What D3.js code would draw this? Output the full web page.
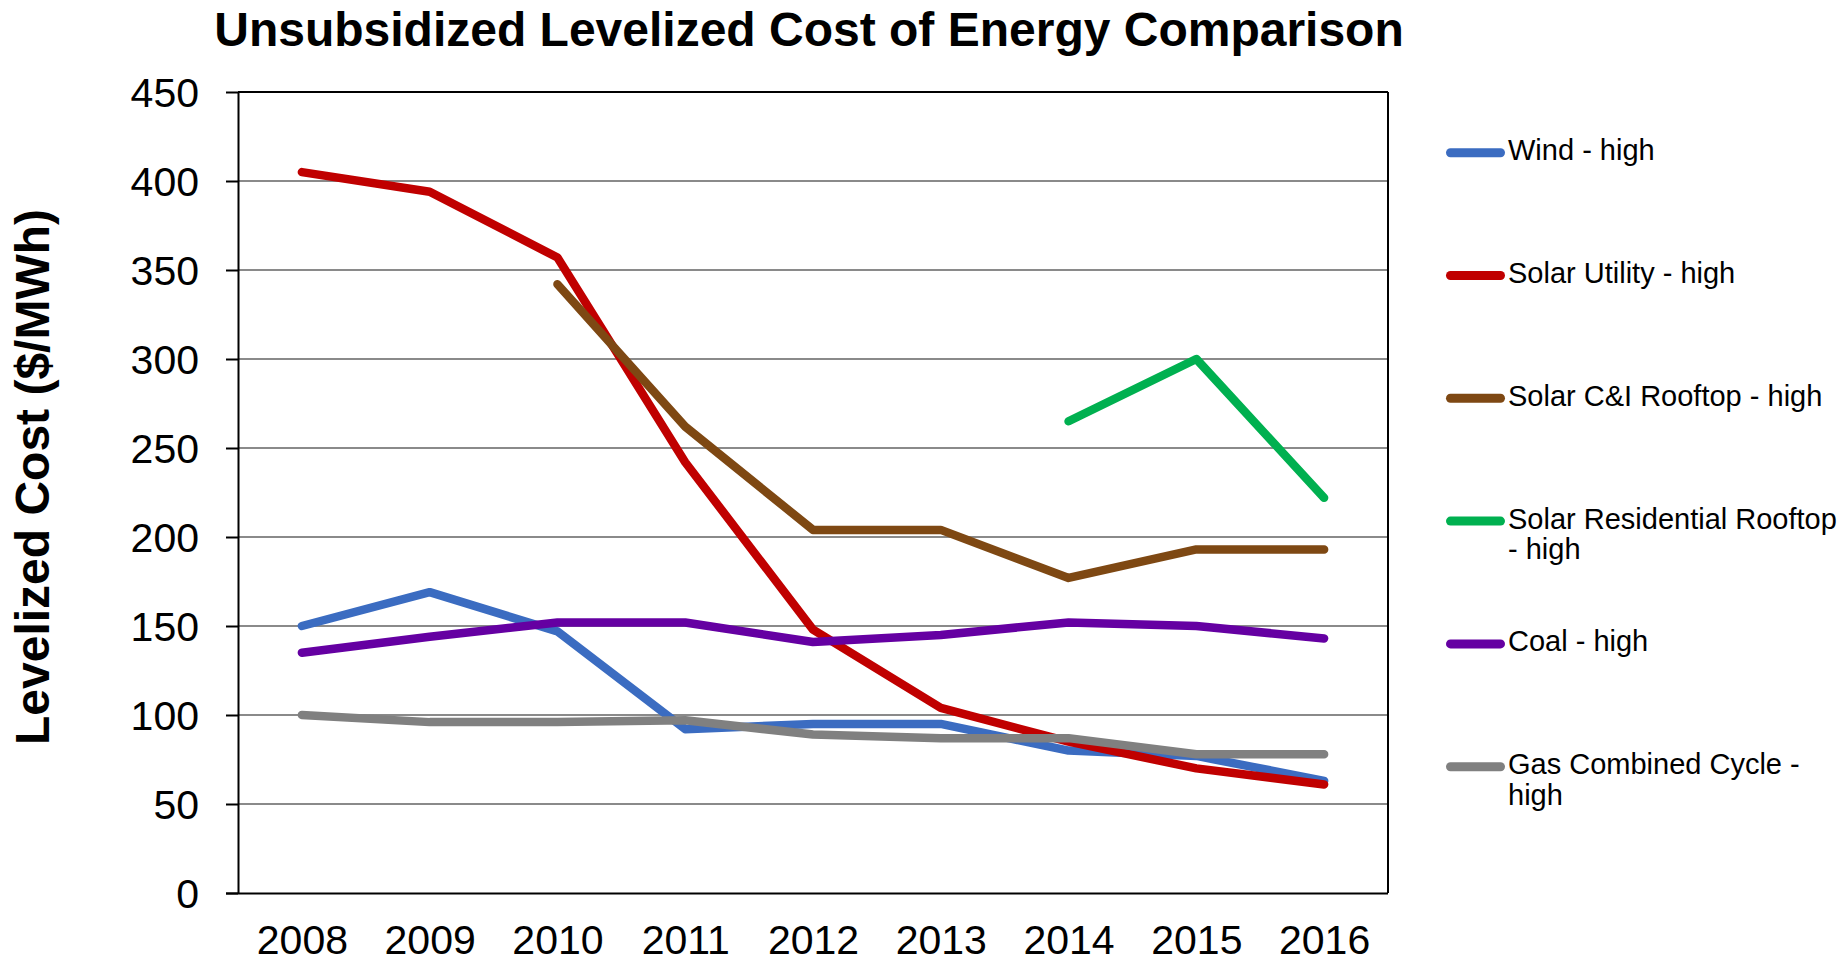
<!DOCTYPE html>
<html>
<head>
<meta charset="utf-8">
<script src="https://cdn.jsdelivr.net/npm/d3@7"></script>
<style>
  html, body { margin: 0; padding: 0; background: #fff; }
  svg { display: block; font-family: "Liberation Sans", Arial, sans-serif; }
</style>
</head>
<body>
<svg id="chart" width="1847" height="963"></svg>
<script>
const years = ["2008","2009","2010","2011","2012","2013","2014","2015","2016"];
const yTicks = [0,50,100,150,200,250,300,350,400,450];
const seriesNames = ["Wind - high","Solar Utility - high","Solar C&I Rooftop - high","Solar Residential Rooftop - high","Coal - high","Gas Combined Cycle - high"];
const legendLines = [["Wind - high"],["Solar Utility - high"],["Solar C&I Rooftop - high"],["Solar Residential Rooftop","- high"],["Coal - high"],["Gas Combined Cycle -","high"]];
const windHigh = [150,169,147,92,95,95,80,77,63];
const solarUtilityHigh = [405,394,357,242,148,104,85,70,61];
const solarCIHigh = [null,null,342,262,204,204,177,193,193];
const solarResHigh = [null,null,null,null,null,null,265,300,222];
const coalHigh = [135,144,152,152,141,145,152,150,143];
const gasHigh = [100,96,96,97,89,87,87,78,78];
const colors = ["#3B6CC1","#C00000","#7E4813","#00B050","#6500A2","#808080"];

const seriesValues = [windHigh, solarUtilityHigh, solarCIHigh, solarResHigh, coalHigh, gasHigh];

const svg = d3.select("#chart");
const L = 238, R = 1388, T = 92, B = 893;

const x = d3.scalePoint().domain(years).range([L, R]).padding(0.5);
const y = d3.scaleLinear().domain([0, 450]).range([B, T]);

// gridlines
svg.append("g").selectAll("line").data(yTicks.filter(v => v > 0 && v < 450)).join("line")
  .attr("x1", L).attr("x2", R).attr("y1", d => y(d)).attr("y2", d => y(d))
  .attr("stroke", "#8a8a8a").attr("stroke-width", 2);

// top and right border
svg.append("line").attr("x1", L).attr("x2", R).attr("y1", y(450)).attr("y2", y(450))
  .attr("stroke", "#000").attr("stroke-width", 2);
svg.append("line").attr("x1", R).attr("x2", R).attr("y1", T).attr("y2", B)
  .attr("stroke", "#000").attr("stroke-width", 2);

// y axis
const yAxis = svg.append("g").attr("transform", `translate(${L},0)`)
  .call(d3.axisLeft(y).tickValues(yTicks).tickSize(12).tickPadding(27).tickSizeOuter(0));
yAxis.select(".domain").attr("stroke", "#000").attr("stroke-width", 2);
yAxis.selectAll(".tick line").attr("stroke", "#000").attr("stroke-width", 2);
yAxis.selectAll(".tick text").attr("font-size", 41).attr("fill", "#000")
  .attr("font-family", "Liberation Sans, Arial, sans-serif").attr("dy", "0.35em");

// x axis
const xAxis = svg.append("g").attr("transform", `translate(0,${B})`)
  .call(d3.axisBottom(x).tickSize(0).tickPadding(32).tickSizeOuter(0));
xAxis.select(".domain").attr("stroke", "#000").attr("stroke-width", 2)
  .attr("d", `M${L - 12},0.5H${R}`);
xAxis.selectAll(".tick text").attr("font-size", 41).attr("fill", "#000")
  .attr("font-family", "Liberation Sans, Arial, sans-serif");

// lines
const line = d3.line()
  .defined(d => d.v !== null)
  .x(d => x(d.year)).y(d => y(d.v));

seriesValues.forEach((vals, i) => {
  const pts = years.map((yr, j) => ({year: yr, v: vals[j]}));
  svg.append("path").datum(pts)
    .attr("fill", "none").attr("stroke", colors[i]).attr("stroke-width", 8.5)
    .attr("stroke-linejoin", "round").attr("stroke-linecap", "round")
    .attr("d", line);
});

// title
svg.append("text").attr("x", 809).attr("y", 46).attr("text-anchor", "middle")
  .attr("font-size", 48).attr("font-weight", "bold").attr("fill", "#000")
  .text("Unsubsidized Levelized Cost of Energy Comparison");

// y axis title
svg.append("text").attr("transform", "translate(49,477) rotate(-90)")
  .attr("text-anchor", "middle").attr("font-size", 48).attr("font-weight", "bold").attr("fill", "#000")
  .text("Levelized Cost ($/MWh)");

// legend
const legY0 = 152.7, legStep = 122.8;
const leg = svg.append("g");
seriesNames.forEach((name, i) => {
  const cy = legY0 + i * legStep;
  leg.append("line").attr("x1", 1450.5).attr("x2", 1500.5).attr("y1", cy).attr("y2", cy)
    .attr("stroke", colors[i]).attr("stroke-width", 9).attr("stroke-linecap", "round");
  const t = leg.append("text").attr("x", 1508).attr("y", cy + 7.5)
    .attr("font-size", 29).attr("fill", "#000");
  legendLines[i].forEach((ln, k) => {
    t.append("tspan").attr("x", 1508).attr("dy", k === 0 ? 0 : 30.5).text(ln);
  });
});
</script>
</body>
</html>
